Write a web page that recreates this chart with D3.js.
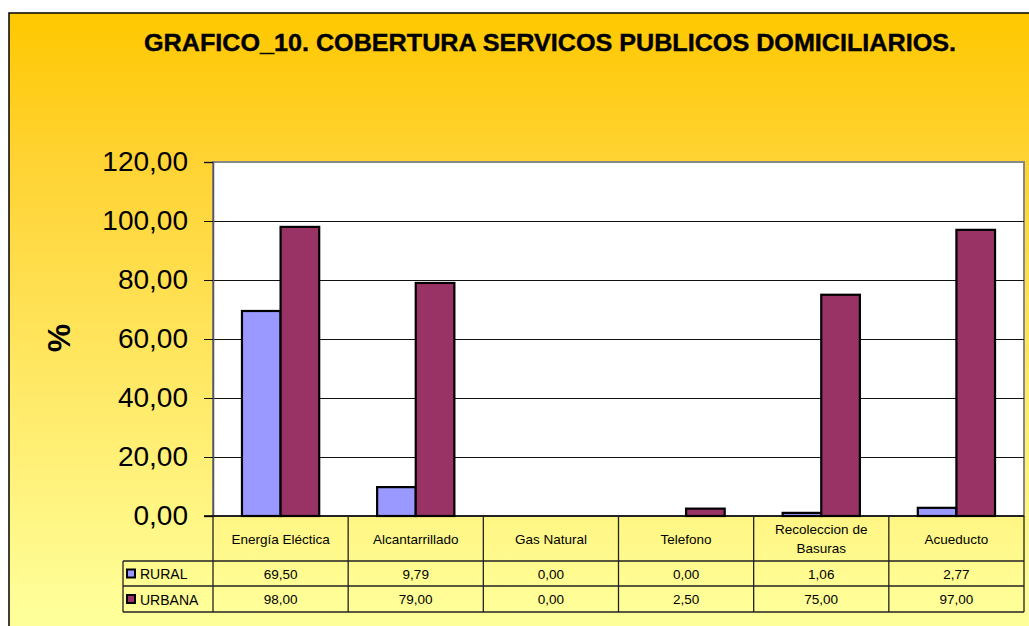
<!DOCTYPE html>
<html>
<head>
<meta charset="utf-8">
<script src="https://cdn.jsdelivr.net/npm/d3@7"></script>
<style>
html,body{margin:0;padding:0;background:#fff;}
svg{display:block;font-family:"Liberation Sans",Arial,sans-serif;}
</style>
</head>
<body>
<svg id="chart" width="1029" height="626"></svg>
<script>
const title = "GRAFICO_10. COBERTURA SERVICOS PUBLICOS DOMICILIARIOS.";
const yAxisTitle = "%";
const categories = ["Energía Eléctica","Alcantarrillado","Gas Natural","Telefono","Recoleccion de Basuras","Acueducto"];
const seriesNames = ["RURAL","URBANA"];
const rural = [69.50, 9.79, 0.00, 0.00, 1.06, 2.77];
const urbana = [98.00, 79.00, 0.00, 2.50, 75.00, 97.00];
const seriesColors = ["#9999FF","#993366"];
const yTicks = [0,20,40,60,80,100,120];

const series = [rural, urbana];
const locale = d3.formatLocale({decimal:",", thousands:".", grouping:[3], currency:["","€"]});
const fmt = locale.format(".2f");

const svg = d3.select("#chart");
const W = 1029, H = 626;
const plot = {left:213, top:162, right:1024, bottom:516};
const table = {labelLeft:123, headerBottom:561, row1Bottom:586, row2Bottom:612};

// background gradient
const defs = svg.append("defs");
const grad = defs.append("linearGradient").attr("id","bg")
  .attr("gradientUnits","userSpaceOnUse").attr("x1",0).attr("y1",13).attr("x2",0).attr("y2",610);
grad.append("stop").attr("offset","0").attr("stop-color","#FFC800");
grad.append("stop").attr("offset","0.25").attr("stop-color","#FFD333");
grad.append("stop").attr("offset","1").attr("stop-color","#FFFF99");

svg.append("rect").attr("x",9).attr("y",13).attr("width",W+20).attr("height",H+20)
  .attr("fill","url(#bg)").attr("stroke","#000").attr("stroke-width",1.5);

// title
svg.append("text").attr("x",550).attr("y",51).attr("text-anchor","middle")
  .attr("font-size",24).attr("font-weight","bold")
  .attr("stroke","#000").attr("stroke-width",0.4)
  .attr("textLength",812).attr("lengthAdjust","spacingAndGlyphs")
  .text(title);

// scales
const x = d3.scaleBand().domain(categories).range([plot.left, plot.right]).paddingInner(0).paddingOuter(0);
const xs = d3.scaleBand().domain(seriesNames).range([0, x.bandwidth()]).paddingInner(0).paddingOuter(0.75);
const y = d3.scaleLinear().domain([0,120]).range([plot.bottom, plot.top]);

// plot area
svg.append("rect").attr("x",plot.left).attr("y",plot.top)
  .attr("width",plot.right-plot.left).attr("height",plot.bottom-plot.top)
  .attr("fill","#fff").attr("stroke","#888").attr("stroke-width",2);

// gridlines
svg.append("g").selectAll("line").data(yTicks.filter(t=>t>0 && t<120)).join("line")
  .attr("x1",plot.left).attr("x2",plot.right)
  .attr("y1",d=>y(d)).attr("y2",d=>y(d))
  .attr("stroke","#111").attr("stroke-width",1).attr("shape-rendering","crispEdges");

// y axis
const yAxis = d3.axisLeft(y).tickValues(yTicks).tickSize(9).tickPadding(16).tickFormat(fmt);
const gy = svg.append("g").attr("transform",`translate(${plot.left},0)`).call(yAxis);
gy.select(".domain").attr("stroke","#555").attr("stroke-width",1.5);
gy.selectAll(".tick line").attr("stroke","#111").attr("shape-rendering","crispEdges");
gy.selectAll(".tick text").attr("font-size",28).attr("fill","#000")
  .attr("font-family","'Liberation Sans',Arial,sans-serif");

// y title
svg.append("text").attr("transform","translate(70,338) rotate(-90)")
  .attr("text-anchor","middle").attr("font-size",32).attr("font-weight","bold").text(yAxisTitle);

// bars
const barData = [];
categories.forEach((c,i)=>{
  seriesNames.forEach((s,j)=>{ barData.push({cat:c, ser:s, v:series[j][i], color:seriesColors[j]}); });
});
svg.append("g").selectAll("rect").data(barData.filter(d=>d.v>0)).join("rect")
  .attr("x",d=>x(d.cat)+xs(d.ser))
  .attr("y",d=>y(d.v))
  .attr("width",xs.bandwidth())
  .attr("height",d=>y(0)-y(d.v))
  .attr("fill",d=>d.color).attr("stroke","#000").attr("stroke-width",2.2);

// x axis line
svg.append("line").attr("x1",plot.left-9).attr("x2",plot.right)
  .attr("y1",plot.bottom).attr("y2",plot.bottom).attr("stroke","#000").attr("stroke-width",1.5);

// data table
const tg = svg.append("g");
const lineColor = "#222";
[[table.labelLeft, table.headerBottom],[table.labelLeft, table.row1Bottom],[table.labelLeft, table.row2Bottom]].forEach(([x0,yy])=>{
  tg.append("line").attr("x1",x0).attr("x2",plot.right).attr("y1",yy).attr("y2",yy)
    .attr("stroke",lineColor).attr("stroke-width",1.3);
});
const bounds = categories.map(c=>x(c)).concat([plot.right]);
bounds.forEach(bx=>{
  tg.append("line").attr("x1",bx).attr("x2",bx).attr("y1",plot.bottom).attr("y2",table.row2Bottom)
    .attr("stroke",lineColor).attr("stroke-width",1.3);
});
tg.append("line").attr("x1",table.labelLeft).attr("x2",table.labelLeft)
  .attr("y1",table.headerBottom).attr("y2",table.row2Bottom).attr("stroke",lineColor).attr("stroke-width",1.3);

// category labels with wrapping
const headerMid = (plot.bottom + table.headerBottom)/2;
categories.forEach(c=>{
  const t = tg.append("text").attr("x",x(c)+x.bandwidth()/2).attr("text-anchor","middle")
    .attr("font-size",13.5).attr("fill","#000");
  const words = c.split(" ");
  let lines = [], cur = [];
  words.forEach(w=>{
    cur.push(w);
    t.text(cur.join(" "));
    if (t.node().getComputedTextLength() > 115 && cur.length>1){
      cur.pop(); lines.push(cur.join(" ")); cur=[w];
    }
  });
  lines.push(cur.join(" "));
  t.text(null);
  const lh = 19;
  const y0 = headerMid - (lines.length-1)*lh/2 + 5;
  lines.forEach((ln,k)=>{
    t.append("tspan").attr("x",x(c)+x.bandwidth()/2).attr("y",y0+k*lh).text(ln);
  });
});

// rows
const rowMids = [(table.headerBottom+table.row1Bottom)/2, (table.row1Bottom+table.row2Bottom)/2];
seriesNames.forEach((s,j)=>{
  const ym = rowMids[j];
  tg.append("rect").attr("x",127).attr("y",ym-4).attr("width",8).attr("height",8)
    .attr("fill",seriesColors[j]).attr("stroke","#000").attr("stroke-width",2);
  tg.append("text").attr("x",140).attr("y",ym+5.5).attr("font-size",14).text(s);
  categories.forEach((c,i)=>{
    tg.append("text").attr("x",x(c)+x.bandwidth()/2).attr("y",ym+5)
      .attr("text-anchor","middle").attr("font-size",13.5).text(fmt(series[j][i]));
  });
});
</script>
</body>
</html>
